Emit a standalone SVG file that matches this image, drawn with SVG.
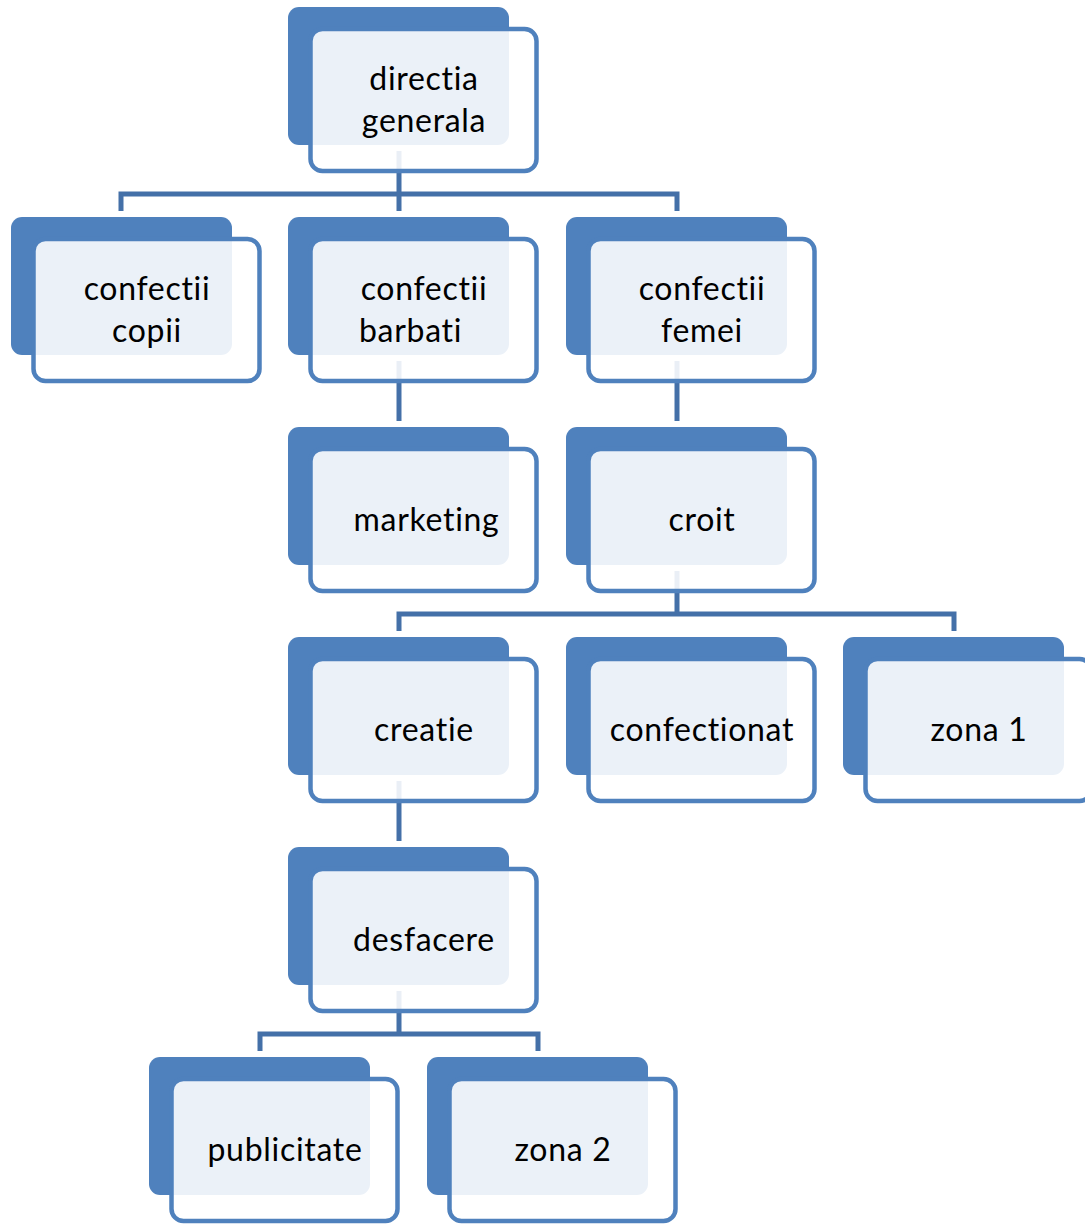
<svg xmlns="http://www.w3.org/2000/svg" width="1085" height="1224" viewBox="0 0 1085 1224">
<defs>
<style>
.back{fill:#4F81BD;}
.front{fill:#FFFFFF;fill-opacity:0.89;stroke:#4F81BD;stroke-width:4.5;}
.lbl{font-family:Lato,"Open Sans",sans-serif;font-size:32px;letter-spacing:0.7px;font-variant-ligatures:none;font-feature-settings:"liga" 0;fill:#000000;text-anchor:middle;}
.conn{fill:none;stroke:#4470A8;stroke-width:5;}
</style>
</defs>
<rect width="1085" height="1224" fill="#FFFFFF"/>
<g id="connectors">
<path class="conn" d="M399,151 V194 M121,211 V194 H677 V211 M399,194 V211"/>
<path class="conn" d="M399,361 V421"/>
<path class="conn" d="M677,361 V421"/>
<path class="conn" d="M677,571 V614 M399,631 V614 H954 V631"/>
<path class="conn" d="M399,781 V841"/>
<path class="conn" d="M399,991 V1034 M260,1051 V1034 H538 V1051"/>
</g>
<g id="n-directia">
<rect class="back" x="288" y="7" width="221" height="138" rx="11"/>
<rect class="front" x="310.5" y="29" width="226" height="142" rx="12"/>
<text class="lbl"><tspan x="424" y="90">directia</tspan><tspan x="424" y="132">generala</tspan></text>
</g>
<g id="n-copii">
<rect class="back" x="11" y="217" width="221" height="138" rx="11"/>
<rect class="front" x="33.5" y="239" width="226" height="142" rx="12"/>
<text class="lbl"><tspan x="147" y="300">confectii</tspan><tspan x="147" y="342">copii</tspan></text>
</g>
<g id="n-barbati">
<rect class="back" x="288" y="217" width="221" height="138" rx="11"/>
<rect class="front" x="310.5" y="239" width="226" height="142" rx="12"/>
<text class="lbl"><tspan x="424" y="300">confectii</tspan><tspan x="359" y="342" text-anchor="start">barbati</tspan></text>
</g>
<g id="n-femei">
<rect class="back" x="566" y="217" width="221" height="138" rx="11"/>
<rect class="front" x="588.5" y="239" width="226" height="142" rx="12"/>
<text class="lbl"><tspan x="702" y="300">confectii</tspan><tspan x="702" y="342">femei</tspan></text>
</g>
<g id="n-marketing">
<rect class="back" x="288" y="427" width="221" height="138" rx="11"/>
<rect class="front" x="310.5" y="449" width="226" height="142" rx="12"/>
<text class="lbl" x="426.5" y="531">marketing</text>
</g>
<g id="n-croit">
<rect class="back" x="566" y="427" width="221" height="138" rx="11"/>
<rect class="front" x="588.5" y="449" width="226" height="142" rx="12"/>
<text class="lbl" x="702" y="531">croit</text>
</g>
<g id="n-creatie">
<rect class="back" x="288" y="637" width="221" height="138" rx="11"/>
<rect class="front" x="310.5" y="659" width="226" height="142" rx="12"/>
<text class="lbl" x="424" y="741">creatie</text>
</g>
<g id="n-confectionat">
<rect class="back" x="566" y="637" width="221" height="138" rx="11"/>
<rect class="front" x="588.5" y="659" width="226" height="142" rx="12"/>
<text class="lbl" x="702" y="741">confectionat</text>
</g>
<g id="n-zona1">
<rect class="back" x="843" y="637" width="221" height="138" rx="11"/>
<rect class="front" x="865.5" y="659" width="226" height="142" rx="12"/>
<text class="lbl" x="979" y="741">zona 1</text>
</g>
<g id="n-desfacere">
<rect class="back" x="288" y="847" width="221" height="138" rx="11"/>
<rect class="front" x="310.5" y="869" width="226" height="142" rx="12"/>
<text class="lbl" x="424" y="951">desfacere</text>
</g>
<g id="n-publicitate">
<rect class="back" x="149" y="1057" width="221" height="138" rx="11"/>
<rect class="front" x="171.5" y="1079" width="226" height="142" rx="12"/>
<text class="lbl" x="285" y="1161">publicitate</text>
</g>
<g id="n-zona2">
<rect class="back" x="427" y="1057" width="221" height="138" rx="11"/>
<rect class="front" x="449.5" y="1079" width="226" height="142" rx="12"/>
<text class="lbl" x="563" y="1161">zona 2</text>
</g>
</svg>
